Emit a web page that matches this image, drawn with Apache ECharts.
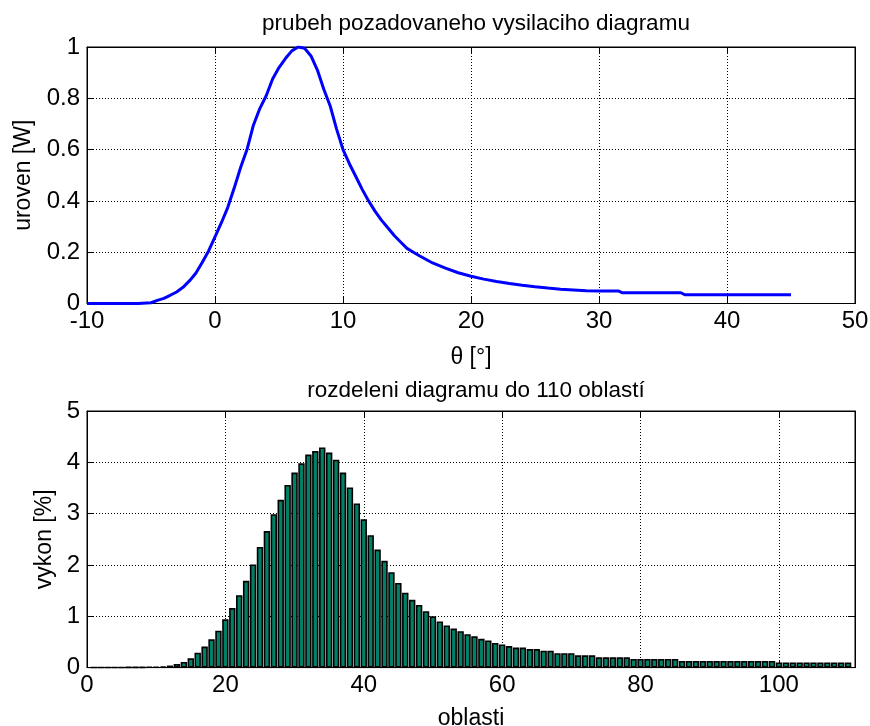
<!DOCTYPE html>
<html>
<head>
<meta charset="utf-8">
<script src="https://cdn.jsdelivr.net/npm/echarts@6/dist/echarts.min.js"></script>
<style>
html,body{margin:0;padding:0;background:#fff;}
#c{width:870px;height:726px;}
</style>
</head>
<body>
<div id="c"></div>
<script>
// ---- top plot data: theta [deg] vs level [W]
const thetaDeg = [-10,-6,-5,-4.5,-4,-3.5,-3,-2.5,-2,-1.5,-1,-0.5,0,0.5,1,1.5,2,2.5,3,3.5,4,4.5,5,5.5,6,6.5,7,7.5,8,8.5,9,9.5,10,10.5,11,11.5,12,12.5,13,13.5,14,14.5,15,15.5,16,17,18,19,20,21,22,23,24,25,26,27,28,29,30,31.5,31.8,36.4,36.7,45];
const level = [0,0,0.003,0.012,0.02,0.032,0.045,0.063,0.088,0.118,0.16,0.205,0.26,0.315,0.375,0.45,0.53,0.60,0.695,0.76,0.81,0.875,0.92,0.955,0.985,1.0,0.995,0.965,0.91,0.835,0.77,0.68,0.60,0.545,0.495,0.445,0.40,0.36,0.325,0.295,0.265,0.24,0.215,0.20,0.185,0.158,0.138,0.12,0.106,0.095,0.086,0.078,0.071,0.065,0.06,0.056,0.053,0.05,0.049,0.049,0.042,0.042,0.034,0.034];

// ---- bottom plot data: power share per region [%], regions 1..110
const regionPower = [
0.004,0.004,0.005,0.005,0.006,0.007,0.008,0.009,0.011,0.014,
0.02,0.04,0.07,0.11,0.18,0.29,0.41,0.55,0.72,0.94,
1.16,1.41,1.69,2.01,2.35,2.66,2.99,3.27,3.56,3.80,
3.98,4.15,4.22,4.29,4.19,4.05,3.80,3.51,3.20,2.89,
2.58,2.30,2.08,1.86,1.65,1.46,1.32,1.22,1.10,1.00,
0.90,0.82,0.76,0.71,0.65,0.61,0.56,0.53,0.48,0.45,
0.42,0.39,0.39,0.36,0.36,0.33,0.33,0.28,0.28,0.28,
0.24,0.24,0.24,0.20,0.20,0.20,0.20,0.20,0.17,0.17,
0.17,0.17,0.17,0.17,0.17,0.13,0.13,0.13,0.13,0.13,
0.13,0.13,0.13,0.13,0.13,0.13,0.13,0.13,0.13,0.10,
0.10,0.10,0.10,0.10,0.10,0.10,0.10,0.10,0.10,0.10
];
const regionIndex = regionPower.map((v, i) => i + 1);

const topTitle = 'prubeh pozadovaneho vysilaciho diagramu';
const bottomTitle = 'rozdeleni diagramu do 110 oblastí';
const topXName = 'θ [°]';
const topYName = 'uroven [W]';
const bottomXName = 'oblasti';
const bottomYName = 'vykon [%]';

const FONT = '"Liberation Sans", Arial, sans-serif';
const TICK_FS = 24;
const NAME_FS = 23;
const TITLE_FS = 22.5;
const gridLineStyle = {color: '#000', width: 1, type: [1, 2]};
const axisLineStyle = {color: '#000', width: 1};
const labelStyle = {color: '#000', fontFamily: FONT, fontSize: TICK_FS, hideOverlap: false};

function mainX(gridIndex, min, max, interval, name, nameGap, showMax) {
  return {
    type: 'value', gridIndex, min, max, interval, position: 'bottom',
    name, nameLocation: 'middle', nameGap,
    nameTextStyle: {color: '#000', fontFamily: FONT, fontSize: NAME_FS},
    axisLine: {show: true, onZero: false, lineStyle: axisLineStyle},
    axisTick: {show: true, inside: true, length: 7, lineStyle: axisLineStyle},
    axisLabel: Object.assign({margin: 6, showMinLabel: true, showMaxLabel: showMax}, labelStyle),
    splitLine: {show: true, lineStyle: gridLineStyle}
  };
}
function mirrorX(gridIndex, min, max, interval) {
  return {
    type: 'value', gridIndex, min, max, interval, position: 'top',
    axisLine: {show: true, onZero: false, lineStyle: axisLineStyle},
    axisTick: {show: true, inside: true, length: 7, lineStyle: axisLineStyle},
    axisLabel: {show: false}, splitLine: {show: false}
  };
}
function mainY(gridIndex, min, max, interval, name, nameGap) {
  return {
    type: 'value', gridIndex, min, max, interval, position: 'left',
    name, nameLocation: 'middle', nameGap, nameRotate: 90,
    nameTextStyle: {color: '#000', fontFamily: FONT, fontSize: NAME_FS},
    axisLine: {show: true, onZero: false, lineStyle: axisLineStyle},
    axisTick: {show: true, inside: true, length: 7, lineStyle: axisLineStyle},
    axisLabel: Object.assign({margin: 7, showMinLabel: true, showMaxLabel: true}, labelStyle),
    splitLine: {show: true, lineStyle: gridLineStyle}
  };
}
function mirrorY(gridIndex, min, max, interval) {
  return {
    type: 'value', gridIndex, min, max, interval, position: 'right',
    axisLine: {show: true, onZero: false, lineStyle: axisLineStyle},
    axisTick: {show: true, inside: true, length: 7, lineStyle: axisLineStyle},
    axisLabel: {show: false}, splitLine: {show: false}
  };
}

const chart = echarts.init(document.getElementById('c'), null, {renderer: 'canvas'});
chart.setOption({
  backgroundColor: '#fff',
  animation: false,
  title: [
    {text: topTitle, left: 471, top: 7, textAlign: 'center',
     textStyle: {color: '#000', fontFamily: FONT, fontSize: TITLE_FS, fontWeight: 'normal'}},
    {text: bottomTitle, left: 471, top: 374, textAlign: 'center',
     textStyle: {color: '#000', fontFamily: FONT, fontSize: TITLE_FS, fontWeight: 'normal'}}
  ],
  grid: [
    {left: 87, top: 47, width: 768, height: 256.5, containLabel: false, outerBoundsMode: 'none',
     show: true, borderColor: '#000', borderWidth: 1, backgroundColor: '#fff'},
    {left: 87, top: 411, width: 768, height: 256.6, containLabel: false, outerBoundsMode: 'none',
     show: true, borderColor: '#000', borderWidth: 1, backgroundColor: '#fff'}
  ],
  xAxis: [
    mainX(0, -10, 50, 10, topXName, 43, true),
    mirrorX(0, -10, 50, 10),
    mainX(1, 0, 111, 20, bottomXName, 40, false),
    mirrorX(1, 0, 111, 20)
  ],
  yAxis: [
    mainY(0, 0, 1, 0.2, topYName, 52),
    mirrorY(0, 0, 1, 0.2),
    mainY(1, 0, 5, 1, bottomYName, 30),
    mirrorY(1, 0, 5, 1)
  ],
  series: [
    {
      type: 'line', xAxisIndex: 0, yAxisIndex: 0,
      data: thetaDeg.map((t, i) => [t, level[i]]),
      showSymbol: false, symbol: 'none',
      lineStyle: {color: '#0000ff', width: 3},
      clip: true
    },
    {
      type: 'bar', xAxisIndex: 2, yAxisIndex: 2,
      data: regionIndex.map((r, i) => [r, regionPower[i]]),
      barWidth: 6.4,
      itemStyle: {color: '#008066', borderColor: '#000', borderWidth: 1.6}
    }
  ]
});
</script>
</body>
</html>
